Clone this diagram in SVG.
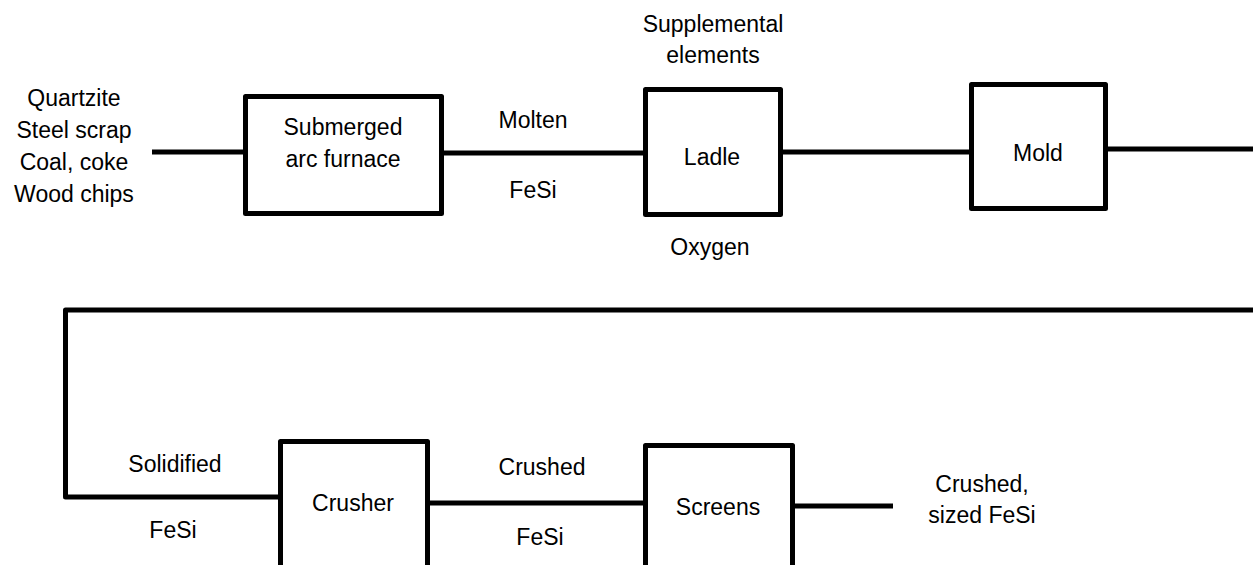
<svg xmlns="http://www.w3.org/2000/svg" width="1253" height="565" viewBox="0 0 1253 565">
<style>
.box{fill:#fff;stroke:#000;stroke-width:5;stroke-linejoin:round}
.ln{fill:none;stroke:#000;stroke-width:5}
text{font-family:"Liberation Sans",Arial,sans-serif;font-size:23px;fill:#000;text-anchor:middle}
</style>
<rect width="1253" height="565" fill="#fff"/>
<g id="connectors">
<path class="ln" d="M152,152 H245"/>
<path class="ln" d="M442,153 H645"/>
<path class="ln" d="M781,152 H971"/>
<path class="ln" d="M1106,149 H1253"/>
<path class="ln" d="M1253,310 H65.5 V497 H280" stroke-linejoin="round"/>
<path class="ln" d="M428,503 H645"/>
<path class="ln" d="M793,506 H893"/>
</g>
<g id="inputs">
<text x="74" y="106">Quartzite</text>
<text x="74" y="138">Steel scrap</text>
<text x="74" y="170">Coal, coke</text>
<text x="74" y="202">Wood chips</text>
</g>
<g id="furnace">
<rect class="box" x="245.5" y="96.5" width="196" height="117"/>
<text x="343" y="135">Submerged</text>
<text x="343" y="167">arc furnace</text>
</g>
<g id="molten-label">
<text x="533" y="128">Molten</text>
<text x="533" y="198">FeSi</text>
</g>
<g id="supplemental">
<text x="713" y="32">Supplemental</text>
<text x="713" y="63">elements</text>
</g>
<g id="ladle">
<rect class="box" x="645.5" y="89.5" width="135" height="125"/>
<text x="712" y="165">Ladle</text>
</g>
<g id="oxygen">
<text x="710" y="255">Oxygen</text>
</g>
<g id="mold">
<rect class="box" x="971.5" y="84.5" width="134" height="124"/>
<text x="1038" y="161">Mold</text>
</g>
<g id="solidified-label">
<text x="175" y="472">Solidified</text>
<text x="173" y="538">FeSi</text>
</g>
<g id="crusher">
<rect class="box" x="280.5" y="441.5" width="147" height="140"/>
<text x="353" y="511">Crusher</text>
</g>
<g id="crushed-label">
<text x="542" y="475">Crushed</text>
<text x="540" y="545">FeSi</text>
</g>
<g id="screens">
<rect class="box" x="645.5" y="445.5" width="147" height="140"/>
<text x="718" y="515">Screens</text>
</g>
<g id="output">
<text x="982" y="492">Crushed,</text>
<text x="982" y="523">sized FeSi</text>
</g>
</svg>
